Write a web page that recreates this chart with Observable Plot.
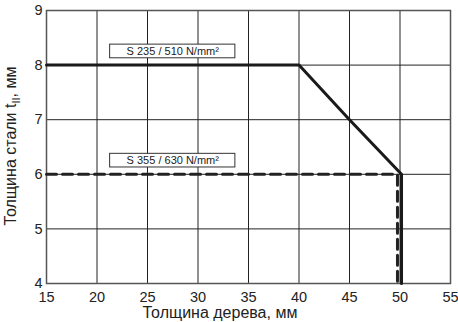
<!DOCTYPE html>
<html><head><meta charset="utf-8">
<script src="https://cdn.jsdelivr.net/npm/d3@7"></script>
<script src="https://cdn.jsdelivr.net/npm/@observablehq/plot@0.6"></script>
<style>body{margin:0;background:#fff}</style>
</head><body><div id="chart"></div>
<script>
const xTicks = [15,20,25,30,35,40,45,50,55];
const yTicks = [4,5,6,7,8,9];
const s235 = [{x:15,y:8},{x:40,y:8},{x:45,y:7},{x:50.15,y:6},{x:50.15,y:4}];
const s355 = [{x:15,y:6},{x:49.75,y:6},{x:49.75,y:4}];
const labels = [
  {text:"S 235 / 510 N/mm²", x:27.5, y:8.25},
  {text:"S 355 / 630 N/mm²", x:27.5, y:6.25}
];
const font = "'Liberation Sans Narrow','Liberation Sans',Arial,sans-serif";
const chart = Plot.plot({
  width:458, height:322,
  marginLeft:46, marginRight:8, marginTop:10, marginBottom:39,
  style:{fontFamily:font, fontSize:"14px", color:"#222", background:"#fff"},
  x:{domain:[15,55], ticks:xTicks, label:null},
  y:{domain:[4,9], ticks:yTicks, label:null},
  marks:[
    Plot.ruleX(xTicks.slice(1,-1), {stroke:"#222", strokeWidth:1}),
    Plot.ruleY(yTicks.slice(1,-1), {stroke:"#222", strokeWidth:1}),
    Plot.frame({stroke:"#555", strokeWidth:1.5}),
    Plot.axisX({ticks:xTicks, tickSize:0, tickPadding:8, fontSize:14.5, tickFormat:"d", label:null}),
    Plot.axisY({ticks:yTicks, tickSize:0, tickPadding:4, fontSize:14.5, tickFormat:"d", label:null}),
    Plot.line(s355, {x:"x", y:"y", stroke:"#222", strokeWidth:3, strokeDasharray:"10,6"}),
    Plot.line(s235, {x:"x", y:"y", stroke:"#1a1a1a", strokeWidth:3}),
    Plot.rect(labels, {x1:d=>d.x-6.2, x2:d=>d.x+6.2, y1:d=>d.y-0.125, y2:d=>d.y+0.125, fill:"#fff", stroke:"#333", strokeWidth:1}),
    Plot.text(labels, {x:"x", y:"y", text:"text", fontSize:11, fill:"#222"})
  ]
});
document.getElementById("chart").appendChild(chart);
const svg = d3.select(chart);
svg.append("text").attr("x", 220).attr("y", 318).attr("text-anchor","middle")
  .attr("font-family", font).attr("font-size", 16).attr("fill","#222").text("Толщина дерева, мм");
const yl = svg.append("text").attr("transform","translate(16,146) rotate(-90)").attr("text-anchor","middle")
  .attr("font-family", font).attr("font-size", 16).attr("fill","#222");
yl.append("tspan").text("Толщина стали t");
yl.append("tspan").attr("font-size",11).attr("dy",4).text("II");
yl.append("tspan").attr("dy",-4).text(", мм");
</script></body></html>
